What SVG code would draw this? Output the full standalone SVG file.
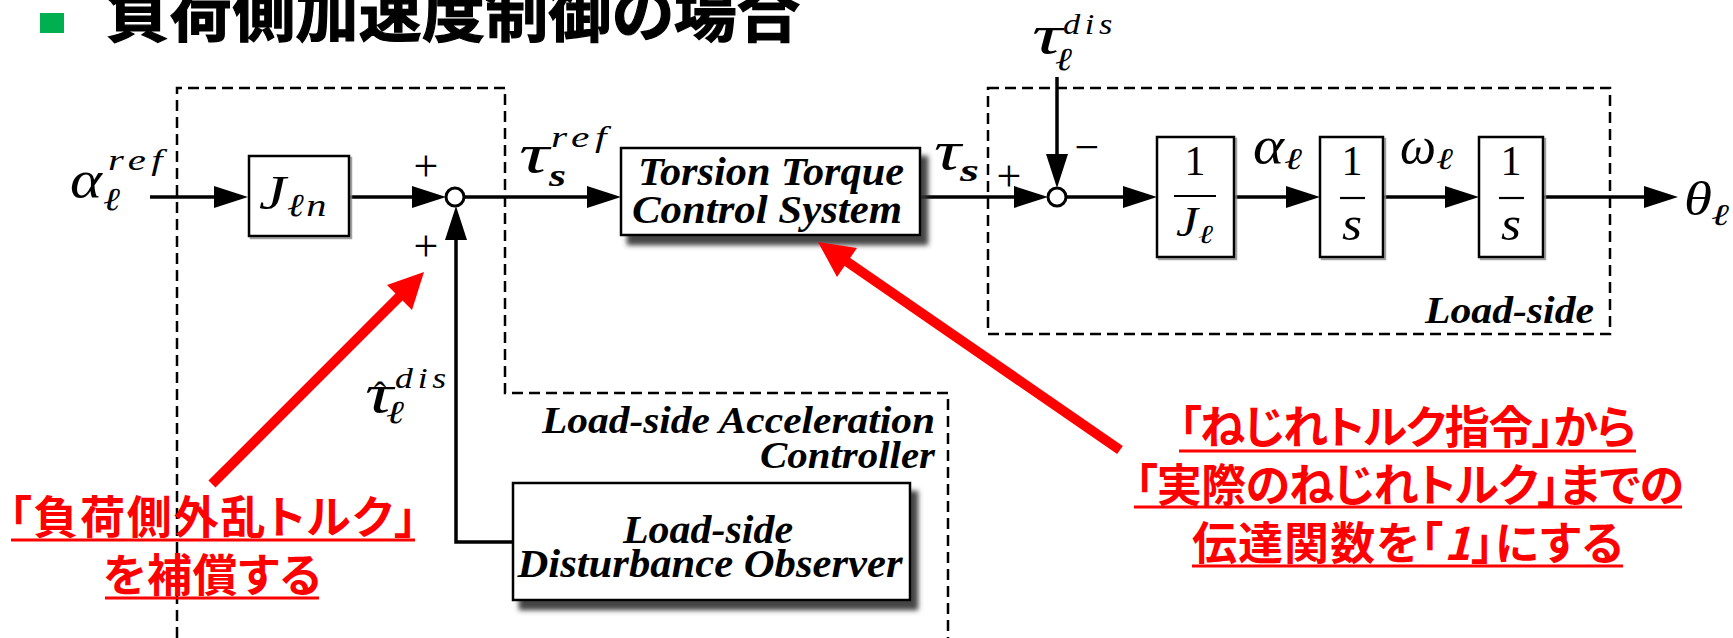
<svg xmlns="http://www.w3.org/2000/svg" width="1733" height="638" viewBox="0 0 1733 638">
<style>
.m{font-family:'Liberation Serif','Times New Roman','DejaVu Serif',serif;font-style:italic;fill:#000}
.u{font-family:'Liberation Serif','Times New Roman','DejaVu Serif',serif;fill:#000}
.bi{font-family:'Liberation Serif','Times New Roman','DejaVu Serif',serif;font-style:italic;font-weight:bold;fill:#000}
.jp{font-family:'Noto Sans CJK JP','Noto Sans CJK SC',sans-serif;font-weight:bold;font-feature-settings:"palt"}
.red{fill:#FF0000}
.box{fill:#fff;stroke:#000;stroke-width:2.5}
.conn{stroke:#000;stroke-width:3.5;fill:none}
.dash{fill:none;stroke:#000;stroke-width:2.5;stroke-dasharray:11 6}
.ul{stroke:#FF0000;stroke-width:3}
.rarrow{stroke:#FF0000;stroke-width:10}
</style>
<defs>
<marker id="ah" markerUnits="userSpaceOnUse" markerWidth="36" markerHeight="24" refX="14" refY="11" orient="auto"><path d="M0,0 L34,11 L0,22 z" fill="#000"/></marker>
<filter id="sh" x="-10%" y="-20%" width="130%" height="150%"><feDropShadow dx="7" dy="9" stdDeviation="2.5" flood-color="#333" flood-opacity="0.9"/></filter>
<filter id="sh2" x="-10%" y="-10%" width="130%" height="130%"><feDropShadow dx="2" dy="2" stdDeviation="0.6" flood-color="#888" flood-opacity="0.8"/></filter>
</defs>
<rect width="1733" height="638" fill="#fff"/>

<g id="title">
<rect x="40" y="13" width="24" height="20" fill="#00B050"/>
<text x="106" y="36" class="jp" font-size="63" fill="#000" stroke="#000" stroke-width="1.2" textLength="694">負荷側加速度制御の場合</text>
</g>

<g id="frames">
<path class="dash" d="M177,638 V88 H505 V393 H948 V638"/>
<rect class="dash" x="988" y="88" width="622" height="246"/>
</g>

<g id="connectors">
<path class="conn" marker-end="url(#ah)" d="M150,197 H228"/>
<path class="conn" marker-end="url(#ah)" d="M349,197 H426"/>
<path class="conn" marker-end="url(#ah)" d="M464,197 H601"/>
<path class="conn" marker-end="url(#ah)" d="M513,542 H456 V226"/>
<path class="conn" marker-end="url(#ah)" d="M920,197 H1028"/>
<path class="conn" marker-end="url(#ah)" d="M1057,77 V168"/>
<path class="conn" marker-end="url(#ah)" d="M1066,197 H1137"/>
<path class="conn" marker-end="url(#ah)" d="M1234,197 H1300"/>
<path class="conn" marker-end="url(#ah)" d="M1383,197 H1459"/>
<path class="conn" marker-end="url(#ah)" d="M1543,197 H1658"/>
</g>

<g id="in-alpha-ref">
<text class="m" x="70" y="197" font-size="52" textLength="32" lengthAdjust="spacingAndGlyphs">α</text>
<text class="m" x="103" y="210" font-size="32" textLength="17" lengthAdjust="spacingAndGlyphs">ℓ</text>
<text class="m" x="108" y="170" font-size="30" letter-spacing="4" textLength="60" lengthAdjust="spacingAndGlyphs">ref</text>
</g>

<g id="box-Jln">
<rect class="box" x="249" y="156" width="100" height="80" filter="url(#sh2)"/>
<text class="m" x="259" y="209" font-size="48" textLength="27" lengthAdjust="spacingAndGlyphs">J</text>
<text class="m" x="287" y="216" font-size="32" letter-spacing="2" textLength="42" lengthAdjust="spacingAndGlyphs">ℓn</text>
</g>

<g id="sum1">
<circle cx="455" cy="197" r="9" fill="#fff" stroke="#000" stroke-width="3"/>
<text class="u" x="426" y="181" font-size="44" text-anchor="middle">+</text>
<text class="u" x="426" y="261" font-size="44" text-anchor="middle">+</text>
</g>

<g id="lbl-tau-s-ref">
<text class="m" x="519" y="172" font-size="54" textLength="30" lengthAdjust="spacingAndGlyphs">τ</text>
<text class="bi" x="549" y="186" font-size="32" textLength="17" lengthAdjust="spacingAndGlyphs">s</text>
<text class="m" x="551" y="147" font-size="30" letter-spacing="4" textLength="61" lengthAdjust="spacingAndGlyphs">ref</text>
</g>

<g id="box-torsion">
<rect class="box" x="621" y="148" width="299" height="87" stroke-width="3" filter="url(#sh)"/>
<text class="bi" x="771" y="185" font-size="40" text-anchor="middle" textLength="266" lengthAdjust="spacingAndGlyphs">Torsion Torque</text>
<text class="bi" x="767" y="223" font-size="40" text-anchor="middle" textLength="270" lengthAdjust="spacingAndGlyphs">Control System</text>
</g>

<g id="lbl-tau-s">
<text class="m" x="934" y="169" font-size="54" textLength="27" lengthAdjust="spacingAndGlyphs">τ</text>
<text class="bi" x="960" y="181" font-size="32" textLength="19" lengthAdjust="spacingAndGlyphs">s</text>
</g>

<g id="sum2">
<circle cx="1057" cy="197" r="9" fill="#fff" stroke="#000" stroke-width="3"/>
<text class="u" x="1009" y="191" font-size="44" text-anchor="middle">+</text>
<text class="u" x="1087" y="162" font-size="44" text-anchor="middle">−</text>
</g>

<g id="in-tau-dis">
<text class="m" x="1032" y="53" font-size="54" textLength="30" lengthAdjust="spacingAndGlyphs">τ</text>
<text class="m" x="1055" y="70" font-size="32" textLength="17" lengthAdjust="spacingAndGlyphs">ℓ</text>
<text class="m" x="1063" y="34" font-size="30" letter-spacing="4" textLength="54" lengthAdjust="spacingAndGlyphs">dis</text>
</g>

<g id="box-1-over-J">
<rect class="box" x="1157" y="137" width="77" height="120" filter="url(#sh2)"/>
<text class="u" x="1195" y="175" font-size="42" text-anchor="middle">1</text>
<line x1="1174" y1="196" x2="1216" y2="196" stroke="#000" stroke-width="2.2"/>
<text class="m" x="1176" y="236" font-size="42" textLength="22" lengthAdjust="spacingAndGlyphs">J</text>
<text class="m" x="1198" y="243" font-size="26" textLength="15" lengthAdjust="spacingAndGlyphs">ℓ</text>
</g>

<g id="lbl-alpha">
<text class="m" x="1253" y="163" font-size="52" textLength="31" lengthAdjust="spacingAndGlyphs">α</text>
<text class="m" x="1284" y="169" font-size="30" textLength="18" lengthAdjust="spacingAndGlyphs">ℓ</text>
</g>

<g id="box-int1">
<rect class="box" x="1320" y="137" width="63" height="120" filter="url(#sh2)"/>
<text class="u" x="1352" y="175" font-size="42" text-anchor="middle">1</text>
<line x1="1340" y1="198" x2="1365" y2="198" stroke="#000" stroke-width="2.2"/>
<text class="m" x="1352" y="240" font-size="48" text-anchor="middle" textLength="20" lengthAdjust="spacingAndGlyphs">s</text>
</g>

<g id="lbl-omega">
<text class="m" x="1400" y="163" font-size="52" textLength="36" lengthAdjust="spacingAndGlyphs">ω</text>
<text class="m" x="1436" y="169" font-size="30" textLength="17" lengthAdjust="spacingAndGlyphs">ℓ</text>
</g>

<g id="box-int2">
<rect class="box" x="1479" y="137" width="64" height="120" filter="url(#sh2)"/>
<text class="u" x="1511" y="175" font-size="42" text-anchor="middle">1</text>
<line x1="1499" y1="198" x2="1524" y2="198" stroke="#000" stroke-width="2.2"/>
<text class="m" x="1511" y="240" font-size="48" text-anchor="middle" textLength="20" lengthAdjust="spacingAndGlyphs">s</text>
</g>

<g id="out-theta">
<text class="m" x="1684" y="215" font-size="48" textLength="28" lengthAdjust="spacingAndGlyphs">θ</text>
<text class="m" x="1711" y="225" font-size="30" textLength="18" lengthAdjust="spacingAndGlyphs">ℓ</text>
</g>

<g id="lbl-load-side">
<text class="bi" x="1425" y="323" font-size="38" textLength="169" lengthAdjust="spacingAndGlyphs">Load-side</text>
</g>

<g id="lbl-acc-ctrl">
<text class="bi" x="935" y="433" font-size="38" text-anchor="end" textLength="393" lengthAdjust="spacingAndGlyphs">Load-side Acceleration</text>
<text class="bi" x="935" y="468" font-size="38" text-anchor="end" textLength="175" lengthAdjust="spacingAndGlyphs">Controller</text>
</g>

<g id="lbl-tau-hat">
<text class="m" x="365" y="412" font-size="54" textLength="28" lengthAdjust="spacingAndGlyphs">τ</text>
<text class="u" x="380" y="407" font-size="36" text-anchor="middle">ˆ</text>
<text class="m" x="386" y="423" font-size="32" textLength="18" lengthAdjust="spacingAndGlyphs">ℓ</text>
<text class="m" x="395" y="388" font-size="30" letter-spacing="4" textLength="56" lengthAdjust="spacingAndGlyphs">dis</text>
</g>

<g id="box-observer">
<rect class="box" x="513" y="483" width="397" height="117" stroke-width="3" filter="url(#sh)"/>
<text class="bi" x="708" y="543" font-size="40" text-anchor="middle" textLength="170" lengthAdjust="spacingAndGlyphs">Load-side</text>
<text class="bi" x="710" y="577" font-size="40" text-anchor="middle" textLength="385" lengthAdjust="spacingAndGlyphs">Disturbance Observer</text>
</g>

<g id="note-left">
<line class="rarrow" x1="212" y1="484" x2="400" y2="296"/>
<polygon class="red" points="424,272 387,285 412,310"/>
<text class="jp red" x="9" y="534" font-size="45" textLength="408">「負荷側外乱トルク」</text>
<line class="ul" x1="11" y1="540" x2="415" y2="540"/>
<text class="jp red" x="103" y="592" font-size="45" textLength="218">を補償する</text>
<line class="ul" x1="105" y1="598" x2="319" y2="598"/>
</g>

<g id="note-right">
<line class="rarrow" x1="1120" y1="450" x2="846" y2="261"/>
<polygon class="red" points="818,242 857,248 837,277"/>
<text class="jp red" x="1179" y="444" font-size="45" textLength="457">「ねじれトルク指令」から</text>
<line class="ul" x1="1179" y1="451" x2="1636" y2="451"/>
<text class="jp red" x="1135" y="502" font-size="45" textLength="549">「実際のねじれトルク」までの</text>
<line class="ul" x1="1134" y1="507" x2="1682" y2="507"/>
<text class="jp red" x="1192" y="560" font-size="45" textLength="431">伝達関数を「<tspan font-style="italic">1</tspan>」にする</text>
<line class="ul" x1="1192" y1="566" x2="1623" y2="566"/>
</g>
</svg>
